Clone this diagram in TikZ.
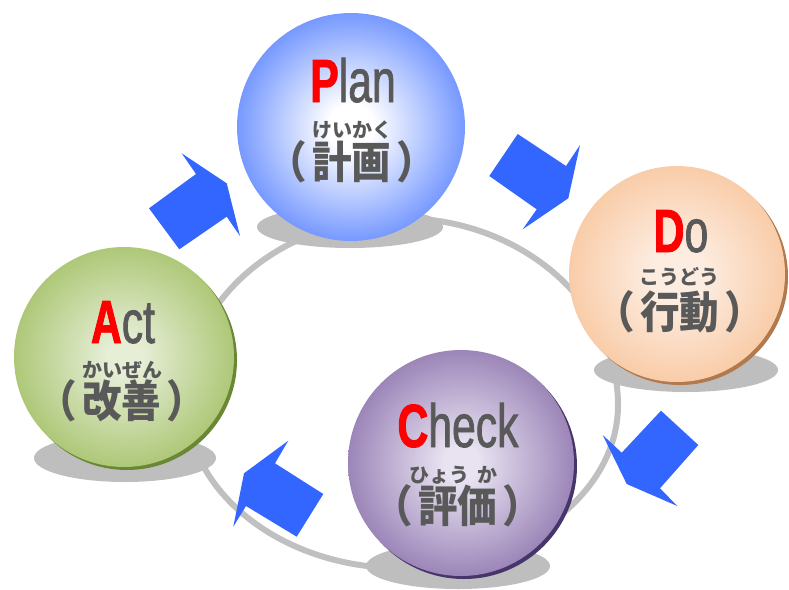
\documentclass[tikz,border=0pt]{standalone}
\usepackage{fontspec}
\newfontfamily\latn[FakeStretch=0.7, FakeBold=1.2]{Liberation Sans}
\newfontfamily\latnred[FakeStretch=0.7, FakeBold=1.5]{Liberation Sans Bold}
\newfontfamily\jpf{Noto Sans CJK JP}
\newfontfamily\jpk[FakeStretch=0.9]{Noto Sans CJK JP}
\definecolor{planc}{HTML}{3366FF}
\definecolor{doc}{HTML}{F7BD8E}
\definecolor{dolight}{HTML}{FDEDE1}
\definecolor{dorim}{HTML}{B07A4E}
\definecolor{actc}{HTML}{9BBB59}
\definecolor{actlight}{HTML}{E6EED6}
\definecolor{actrim}{HTML}{6A8734}
\definecolor{chkc}{HTML}{7F63A3}
\definecolor{chklight}{HTML}{E8E2F1}
\definecolor{chkrim}{HTML}{45356A}
\definecolor{arrowc}{HTML}{3366FF}
\definecolor{ringc}{HTML}{C0C0C0}
\definecolor{shadowc}{HTML}{BEBEBE}
\definecolor{txt}{HTML}{595959}
\pgfdeclareradialshading{planshade}{\pgfpoint{0bp}{0bp}}{color(0bp)=(white); color(5bp)=(white); color(35bp)=(planc); color(50bp)=(planc)}
\pgfdeclareradialshading{doshade}{\pgfpoint{0bp}{0bp}}{color(0bp)=(dolight); color(6bp)=(dolight); color(34bp)=(doc); color(50bp)=(doc)}
\pgfdeclareradialshading{actshade}{\pgfpoint{0bp}{0bp}}{color(0bp)=(actlight); color(4bp)=(actlight); color(32bp)=(actc); color(50bp)=(actc)}
\pgfdeclareradialshading{chkshade}{\pgfpoint{0bp}{0bp}}{color(0bp)=(chklight); color(4bp)=(chklight); color(33bp)=(chkc); color(50bp)=(chkc)}
\tikzset{
  ball/.style={circle, inner sep=0pt, draw=none},
  shadowell/.style={ellipse, fill=shadowc, inner sep=0pt, draw=none},
  blockarrow/.style={fill=arrowc, draw=none},
  latinw/.style={anchor=base, inner sep=0pt, text=txt, font=\latn\fontsize{61}{61}\selectfont},
  furi/.style={inner sep=0pt, text=txt, font=\jpf\bfseries\fontsize{20}{20}\selectfont},
  kanji/.style={inner sep=0pt, text=txt, font=\jpk\bfseries\fontsize{44}{44}\selectfont},
}
\newcommand{\redl}[1]{{\latnred\color{red}#1}}
\newcommand{\kj}[1]{（\hspace{5pt}#1\hspace{5pt}）}
\usetikzlibrary{shapes.geometric}
\begin{document}
\begin{tikzpicture}[x=1pt, y=-1pt]
\useasboundingbox (0,0) rectangle (789,589);
% ring
\draw[ringc, line width=6pt] (400,218) .. controls (520,218) and (618,302) .. (618,405)
  .. controls (618,495) and (520,568) .. (400,568)
  .. controls (283,568) and (186,493) .. (186,400)
  .. controls (186,299.5) and (282,218) .. (400,218) -- cycle;
% shadows
\node[shadowell, minimum width=186pt, minimum height=42pt] (planS) at (350,227) {};
\node[shadowell, minimum width=184pt, minimum height=44pt] (doS) at (686,370) {};
\node[shadowell, minimum width=182pt, minimum height=48pt] (actS) at (125,458) {};
\node[shadowell, minimum width=184pt, minimum height=46pt] (chkS) at (458,566) {};
% rims
\node[ball, fill=dorim, minimum size=216pt] (doR) at (680,277) {};
\node[ball, fill=actrim, minimum size=220pt] (actR) at (127,360) {};
\node[ball, fill=chkrim, minimum size=226pt] (chkR) at (464,466) {};
% balls
\node[ball, shading=planshade, minimum size=228pt] (plan) at (351,127) {};
\node[ball, shading=doshade, minimum size=216pt] (do) at (677,274) {};
\node[ball, shading=actshade, minimum size=220pt] (act) at (124,357) {};
\node[ball, shading=chkshade, minimum size=226pt] (chk) at (461,463) {};
% arrows
\fill[blockarrow] (517.7,134) -- (566,166) -- (580,145) -- (568.3,198.3) -- (522.7,229.3) -- (536.7,209.3) -- (489.3,176) -- cycle;
\fill[blockarrow] (661,410.7) -- (698.3,445) -- (660,488.3) -- (677.3,506) -- (626.7,484) -- (602.7,435) -- (621.7,452.7) -- cycle;
\fill[blockarrow] (323.3,494) -- (296.7,536.7) -- (246,506) -- (233.3,526.7) -- (244,473.3) -- (288.3,440.7) -- (275,463.3) -- cycle;
\fill[blockarrow] (149,208.3) -- (196,174) -- (181.7,153.3) -- (226.7,183.3) -- (240,236) -- (226.7,216.7) -- (179.3,249.3) -- cycle;
% texts
\node[latinw] (planL) at (353,102) {\redl{P}lan};
\node[furi] (planF) at (352,130) {けいかく};
\node[kanji] (planK) at (352,162) {\kj{計画}};
\node[latinw] (doL) at (681,252) {\redl{D}o};
\node[furi] (doF) at (679,277) {こうどう};
\node[kanji] (doK) at (680,312) {\kj{行動}};
\node[latinw] (actL) at (123,343) {\redl{A}ct};
\node[furi] (actF) at (122,370) {かいぜん};
\node[kanji] (actK) at (122,401) {\kj{改善}};
\node[latinw] (chkL) at (458,447) {\redl{C}heck};
\node[furi] (chkF) at (453,475) {ひょう\hspace{8pt}か};
\node[kanji] (chkK) at (458,506) {\kj{評価}};
\end{tikzpicture}
\end{document}
